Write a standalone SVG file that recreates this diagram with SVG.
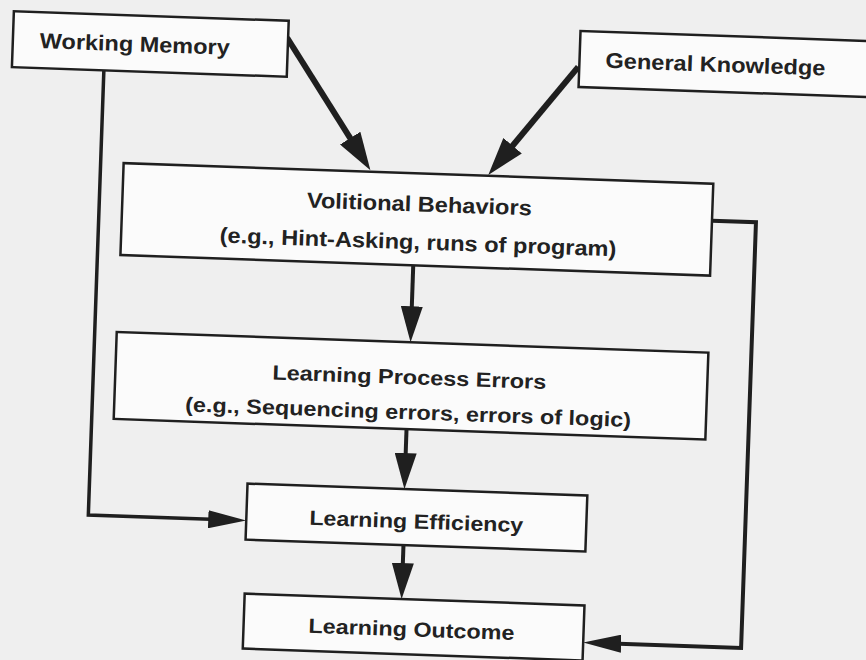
<svg xmlns="http://www.w3.org/2000/svg" width="866" height="660" viewBox="0 0 866 660">
  <defs>
    <style>
      .box { fill: #fbfbfb; stroke: #1f1f1f; stroke-width: 2.5; }
      .lbl { font-family: "Liberation Sans", Arial, Helvetica, sans-serif; font-weight: bold; fill: #222; text-anchor: middle; }
      .big { font-size: 21.5px; }
      .sm { font-size: 20.5px; }
      .con { fill: none; stroke: #1f1f1f; stroke-linejoin: miter; stroke-linecap: butt; }
      .thick { stroke-width: 6; marker-end: url(#ah); }
      .mid { stroke-width: 4; marker-end: url(#av); }
      .side { stroke-width: 4; marker-end: url(#ahz); }
      .thin { stroke-width: 3.5; marker-end: url(#ahz); }
    </style>
    <marker id="ah" markerUnits="userSpaceOnUse" viewBox="0 0 38 24" markerWidth="38" markerHeight="24" refX="24" refY="12" orient="auto">
      <path d="M0,0 L38,12 L0,24 Z" fill="#1f1f1f"/>
    </marker>
    <marker id="av" markerUnits="userSpaceOnUse" viewBox="0 0 36 22" markerWidth="36" markerHeight="22" refX="22" refY="11" orient="auto">
      <path d="M0,0 L36,11 L0,22 Z" fill="#1f1f1f"/>
    </marker>
    <marker id="ahz" markerUnits="userSpaceOnUse" viewBox="0 0 38 18" markerWidth="38" markerHeight="18" refX="24" refY="9" orient="auto">
      <path d="M0,0 L38,9 L0,18 Z" fill="#1f1f1f"/>
    </marker>
  </defs>
  <rect x="0" y="0" width="866" height="660" fill="#efefef"/>
  <g transform="rotate(2 433 330)">
    <g id="connectors">
      <path class="con thick" d="M277,43 L357,161"/>
      <path class="con thick" d="M569,62 L491.4,162"/>
      <path class="con mid" d="M411,266 L411,329"/>
      <path class="con mid" d="M410,430 L410,476"/>
      <path class="con mid" d="M411,546 L411,586"/>
      <path class="con thin" d="M95,82 L95,527 L239,527"/>
      <path class="con side" d="M708,211 L752,211 L752,637 L608,637"/>
    </g>
    <g id="working-memory">
      <rect class="box" x="3" y="26" width="275" height="56"/>
      <text class="lbl big" x="125" y="62" textLength="190" lengthAdjust="spacingAndGlyphs">Working Memory</text>
    </g>
    <g id="general-knowledge">
      <rect class="box" x="570" y="26" width="330" height="56"/>
      <text class="lbl big" x="706" y="62" textLength="220" lengthAdjust="spacingAndGlyphs">General Knowledge</text>
    </g>
    <g id="volitional-behaviors">
      <rect class="box" x="118" y="174" width="590" height="92"/>
      <text class="lbl big" x="415" y="212" textLength="225" lengthAdjust="spacingAndGlyphs">Volitional Behaviors</text>
      <text class="lbl big" x="415" y="250" textLength="397" lengthAdjust="spacingAndGlyphs">(e.g., Hint-Asking, runs of program)</text>
    </g>
    <g id="learning-process-errors">
      <rect class="box" x="117" y="343" width="592" height="87"/>
      <text class="lbl sm" x="411" y="385" textLength="274" lengthAdjust="spacingAndGlyphs">Learning Process Errors</text>
      <text class="lbl sm" x="411" y="420" textLength="446" lengthAdjust="spacingAndGlyphs">(e.g., Sequencing errors, errors of logic)</text>
    </g>
    <g id="learning-efficiency">
      <rect class="box" x="253" y="490" width="340" height="56"/>
      <text class="lbl sm" x="423" y="529" textLength="214" lengthAdjust="spacingAndGlyphs">Learning Efficiency</text>
    </g>
    <g id="learning-outcome">
      <rect class="box" x="254" y="600" width="340" height="55"/>
      <text class="lbl sm" x="422" y="637" textLength="206" lengthAdjust="spacingAndGlyphs">Learning Outcome</text>
    </g>
  </g>
</svg>
